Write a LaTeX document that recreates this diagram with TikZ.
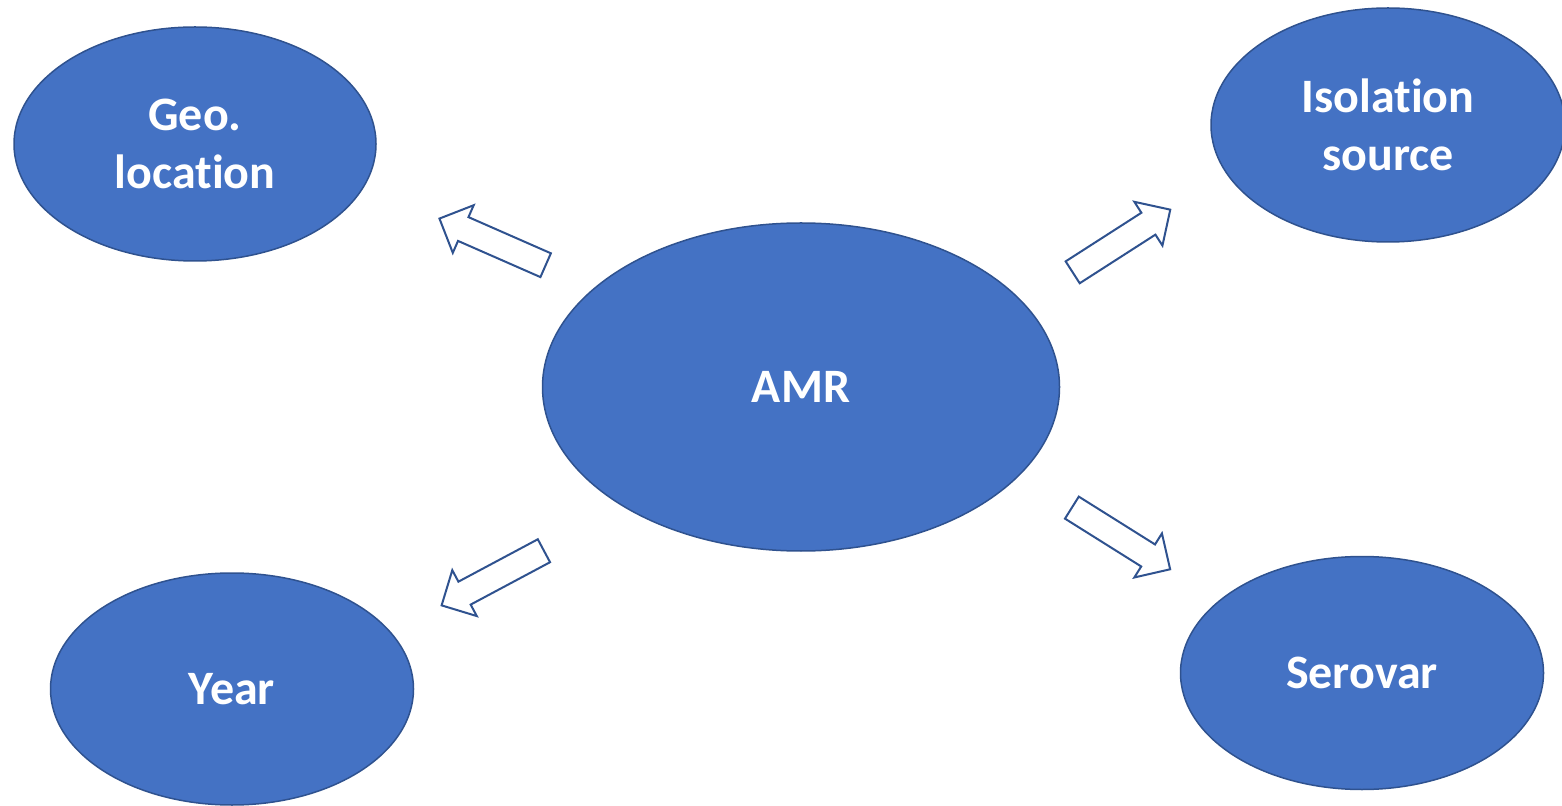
\documentclass[tikz,border=0pt]{standalone}
\usepackage{fontspec}
\setmainfont[Ligatures=NoCommon]{Carlito}
\usetikzlibrary{shapes.geometric,shapes.arrows}
\definecolor{fillblue}{HTML}{4472C4}
\definecolor{edgeblue}{HTML}{2F528F}
\begin{document}
\begin{tikzpicture}[x=0.5pt,y=-0.5pt,
  oval/.style={ellipse,draw=edgeblue,fill=fillblue,line width=0.75pt,inner sep=0pt,
    text=white,font=\fontsize{24}{29}\selectfont\bfseries,align=center},
  blockarrow/.style={single arrow,draw=edgeblue,fill=white,line width=1pt,
    inner xsep=0pt,inner ysep=6pt,single arrow head extend=6.5pt,
    minimum height=58pt,anchor=center}]
\useasboundingbox (0,0) rectangle (1562,806);
\node[oval,minimum width=362pt*0.5,minimum height=234pt*0.5] (geo) at (195,144) {Geo.\\location};
\node[oval,minimum width=354pt*0.5,minimum height=234pt*0.5] (iso) at (1388,125) {Isolation\\source};
\node[oval,minimum width=517pt*0.5,minimum height=328pt*0.5] (amr) at (801,387) {AMR};
\node[oval,minimum width=363pt*0.5,minimum height=232pt*0.5] (year) at (232,689) {Year};
\node[oval,minimum width=363pt*0.5,minimum height=233pt*0.5] (sero) at (1362,673) {Serovar};
\node[blockarrow,rotate=156.3] (a1) at (498.5,244.5) {};
\node[blockarrow,rotate=32.7] (a2) at (1116,244.5) {};
\node[blockarrow,rotate=208.1] (a3) at (498.5,575) {};
\node[blockarrow,rotate=-32.1] (a4) at (1115.5,535) {};
\end{tikzpicture}
\end{document}
